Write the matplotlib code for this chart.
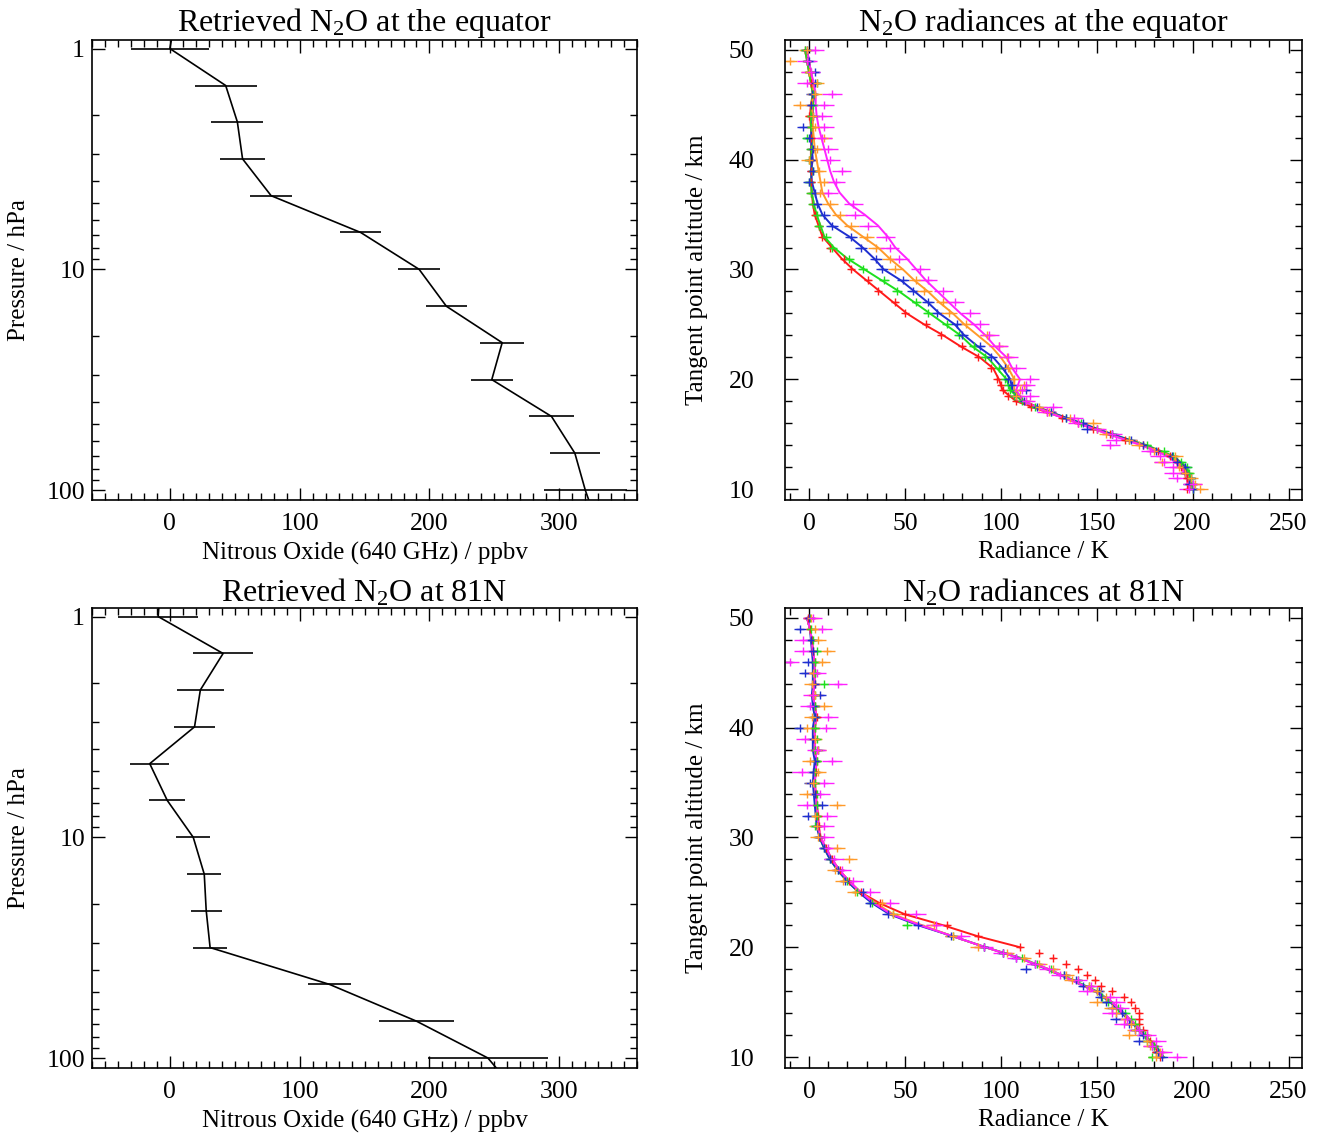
import matplotlib.pyplot as plt
import numpy as np
from matplotlib.ticker import MultipleLocator, LogLocator, NullFormatter

plt.rcParams['font.family'] = ['Liberation Serif', 'DejaVu Serif']
plt.rcParams['mathtext.default'] = 'regular'

# ---- retrieved N2O profiles (left column) ----
pres = [0.68, 1.0, 1.47, 2.15, 3.16, 4.64, 6.81, 10.0, 14.7, 21.5, 31.6, 46.4, 68.1, 100.0, 147.0]
n2o_eq = [5, 0, 43, 52, 56, 78, 147, 192, 213, 256, 248, 294, 312, 320, 330]
err_eq = [0, 30, 24, 20, 17, 16, 16, 16, 16, 17, 16, 17, 19, 32, 0]
n2o_81 = [-7, -9, 41, 23.5, 19, -15.5, -2, 18, 26.5, 28, 31, 123, 190, 245, 269]
err_81 = [0, 31, 23, 18, 16, 15, 14, 13, 13, 12, 13, 16.5, 29, 46, 0]

# ---- radiances (right column) ----
z_line = np.arange(10, 51)                      # km, 1 km grid for the lines
z_meas = np.concatenate([np.arange(10, 20, 0.5), np.arange(20, 51)])  # tangent heights

names = ['red', 'green', 'blue', 'orange', 'magenta']
colours = {'red': '#ff1a1a', 'green': '#1ee01e', 'blue': '#1f2fd0',
           'orange': '#ff9a2a', 'magenta': '#ff22ff'}
xerr = {'red': 1.2, 'green': 2.5, 'blue': 3.0, 'orange': 4.0, 'magenta': 5.0}

# equator lines (z = 10..50)
line_eq = {
    'red': [198, 197, 195, 188, 174, 157, 141, 124, 108, 101,
            99, 96, 89, 79, 70, 60, 51, 44, 37, 30, 23, 17, 12, 7, 5, 3, 2, 1.5, 1, 1.5,
            1, 1, 1.5, 1, 0.5, 1, 2, 1, 0, -1, -2],
    'green': [200, 199, 197, 190, 176, 158, 142, 126, 111, 105,
              103, 98, 93, 85, 79, 71, 63, 55, 47, 38, 29, 20, 13, 8, 6, 4, 2.5, 1.5, 1, 1.5,
              1, 1.5, 1.5, 1, 1, 1.5, 2, 1, 0, -1, -2],
    'blue': [199, 198, 196, 189, 175, 158, 142, 126, 112, 106,
             105, 101, 96, 88, 81, 76, 68, 62, 55, 48, 39, 34, 28, 21, 12, 7, 4.5, 3, 1.5, 1,
             2, 1.5, 1, 1.5, 2, 2, 3, 2, 1, 0, -1],
    'orange': [199, 198, 195, 189, 174, 156, 140, 125, 112, 107,
               107, 104, 100, 95, 88, 81, 75, 68, 62, 55, 49, 42, 36, 28, 20, 14, 10, 7, 6, 5,
               4, 3, 2.5, 2, 2, 1.5, 2.5, 2, 1, 0, -1],
    'magenta': [198, 197, 194, 187, 173, 156, 140, 124, 112, 108,
                110, 106, 103, 97, 92, 86, 79, 73, 67, 61, 56, 51, 45, 41, 36, 29, 21, 16, 13, 11,
                9.5, 8, 6.5, 5, 4, 3.5, 3.5, 2.5, 1, 0, -1],
}

# equator measurements (z_meas grid)
meas_eq = {
    'red': [197, 198, 197, 196, 194, 192, 188, 182, 174, 165, 157, 148, 140, 132, 124, 116, 108, 104, 101, 100,
            98, 95, 88, 80, 69, 61, 50, 45, 36, 31, 22, 18, 11, 7, 5, 3, 2, 1, 1, 1,
            1, 1, 1, 1, 0, 1, 2, 1, 0, -1, -2],
    'green': [200, 200, 199, 198, 197, 194, 190, 185, 176, 167, 158, 150, 142, 134, 126, 118, 111, 107, 105, 104,
              102, 99, 92, 86, 78, 72, 62, 56, 46, 39, 28, 21, 12, 9, 5, 4, 2, 1, 0, 2,
              0, 1, -1, 1, 1, 2, 2, 4, 0, -1, -2],
    'blue': [200, 198, 199, 196, 196, 192, 189, 181, 174, 168, 158, 145, 143, 134, 126, 119, 112, 108, 113, 106,
             104, 102, 95, 89, 80, 77, 67, 62, 54, 49, 38, 35, 27, 22, 12, 8, 4, 3, 0, 2,
             1, 2, 0, -3, 2, 1, 1.5, 3, 3, 0, -1],
    'orange': [204, 201, 199, 196, 193, 184, 191, 180, 172, 167, 155, 150, 148, 136, 125, 120, 113, 108, 110, 112,
               107, 104, 103, 99, 93, 82, 73, 70, 60, 56, 45, 42, 35, 30, 22, 16, 11, 6, 8, 5,
               0, 4, 8, 3, 2, -4.5, 3, 4, 0, -10, -1],
    'magenta': [198, 200, 192, 190, 190, 185, 183, 178, 157, 160, 158, 150, 140, 138, 124, 127, 113, 115, 111, 113,
                115, 108, 104, 99, 94, 89, 84, 76, 70, 62, 58, 47, 42, 40, 31, 24, 23, 10, 14, 17,
                11, 10, 7, 8, 7, 8, 12, -1, 1, -1, 3],
}

# 81N lines (z = 10..50); red line stops at 20 km
nan = np.nan
line_81 = {
    'red': [nan] * 10 +
           [110, 88, 70, 50, 37, 27, 21, 16, 12, 9, 6, 5, 4.7, 4, 3.5, 3, 3.5, 4, 3, 3,
            3, 4, 3, 2, 3, 3, 3, 2, 1.5, 0.5, -1],
    'green': [185, 181, 175, 170, 164, 158, 150, 138, 125, 111,
              92, 75, 58, 43, 34, 26, 20, 15, 11, 8, 5.5, 4.5, 4, 3.5, 3, 2.5, 3, 3.5, 2.5, 2.5,
              2.5, 3.5, 2.5, 2, 2.5, 2.5, 2.5, 2, 1.5, 0.5, -1],
    'blue': [184, 180, 174, 169, 163, 157, 149, 137, 124, 110,
             92, 75, 57, 42, 33, 26, 20, 15, 11, 8, 5.5, 4, 3.5, 3, 2.5, 2, 2.5, 3, 2, 2,
             2, 3, 2, 1.5, 2, 2, 2, 1.5, 1, 0.5, -1],
    'orange': [184, 180, 174, 170, 164, 158, 149, 137, 125, 110,
               92, 75, 59, 44, 35, 27, 21, 16, 12, 9, 6, 5, 4.7, 4, 3.5, 3, 3.5, 4, 3, 3,
               3, 4, 3, 2, 3, 3, 3, 2, 1.5, 0.5, -1],
    'magenta': [184, 180, 174, 170, 164, 158, 149, 137, 125, 110,
                92, 75, 58, 43, 34, 27, 21, 16, 12, 9, 6, 5, 4.7, 4, 3.5, 3, 3.5, 4, 3, 3,
                3, 4, 3, 2, 3, 3, 3, 2, 1.5, 0.5, -1],
}

# 81N measurements (z_meas grid)
meas_81 = {
    'red': [183, 181, 180, 178, 176, 174, 172, 172, 172, 170, 168, 164, 158, 152, 149, 145, 140, 134, 127, 120,
            110, 88, 72, 50, 37, 27, 21, 16, 12, 9, 6, 5, 4.5, 4, 3.5, 3, 3.5, 4, 3, 3,
            3, 4, 3, 2, 3, 3, 3, 2, 1.5, 0.5, -0.5],
    'green': [179, 182, 180, 176, 175, 172, 170, 168, 165, 161, 156, 153, 150, 146, 140, 133, 126, 119, 111, 101,
              91, 75, 51, 44, 33, 25, 20, 15, 11, 8, 5, 3, 4, 4, 4, 3, 3, 4, 3, 4,
              3, 3, 3, 3, 8, 3, 3, 4, 2, 1, 0.5],
    'blue': [184, 182, 179, 172, 174, 170, 167, 160, 163, 158, 155, 152, 151, 143, 139, 133, 113, 118, 108, 101,
             91, 74, 57, 41, 32, 28, 19, 15, 11, 8, 5, 4, -0.5, 7, 3, 0.5, 2, 3, 4.7, 2,
             -4.7, 3, 2, 5.7, 3, -2, -0.5, 2, 1, -4.7, 0],
    'orange': [181, 183, 178, 176, 167, 170, 168, 165, 160, 158, 150, 155, 150, 146, 137, 134, 127, 120, 112, 103,
               88, 75, 65, 44, 38, 24, 17.7, 13.5, 21, 14.6, 4.7, 4, 3, 14.6, -1, 2, 4.7, 0.5, 4.7, 3,
               -1, 1.5, 8, 3, 1.5, 2, 7, 9.4, 4.7, 3, 1],
    'magenta': [192, 184, 179, 181, 176, 172, 164, 166, 158, 162, 160, 157, 145, 147, 140, 131, 125, 118, 108, 101,
                91, 79, 66, 56, 42, 32, 23, 17, 13, 10, 8, 8, 9.4, -1, 5.7, 8, -3.6, 12, 4, -2,
                9, 10, 0.5, 2, 15, 4, -10, -3, -3, 7, 2],
}

fig = plt.figure(figsize=(13.33, 11.38), dpi=100)
ax_tl = fig.add_axes([0.069, 0.5606, 0.409, 0.4042])
ax_bl = fig.add_axes([0.069, 0.0615, 0.409, 0.4042])
ax_tr = fig.add_axes([0.5889, 0.5606, 0.3878, 0.4042])
ax_br = fig.add_axes([0.5889, 0.0615, 0.3878, 0.4042])

fs_title = 23
fs_tick = 18.5
fs_lab = 18


def style(ax, ypad):
    ax.tick_params(which='both', direction='in', top=True, right=True,
                   labelsize=fs_tick, width=1)
    ax.tick_params(axis='x', pad=9)
    ax.tick_params(axis='y', pad=ypad)
    ax.tick_params(which='major', length=9)
    ax.tick_params(which='minor', length=5)
    for s in ax.spines.values():
        s.set_linewidth(1.2)


def profile_panel(ax, vals, errs, title):
    ax.plot(vals, pres, color='black', lw=1.2)
    ax.errorbar(vals[1:-1], pres[1:-1], xerr=errs[1:-1], fmt='none',
                ecolor='black', elinewidth=1.2, capsize=0)
    ax.set_yscale('log')
    ax.set_ylim(111, 0.915)
    ax.set_xlim(-60, 360)
    ax.set_yticks([1, 10, 100])
    ax.set_yticklabels(['1', '10', '100'])
    ax.yaxis.set_minor_locator(LogLocator(base=10, subs=np.arange(2, 10)))
    ax.yaxis.set_minor_formatter(NullFormatter())
    ax.xaxis.set_major_locator(MultipleLocator(100))
    ax.xaxis.set_minor_locator(MultipleLocator(10))
    ax.set_xlabel('Nitrous Oxide (640 GHz) / ppbv', fontsize=fs_lab, labelpad=5)
    ax.set_ylabel('Pressure / hPa', fontsize=fs_lab)
    ax.yaxis.set_label_coords(-0.114, 0.5)
    ax.set_title(title, fontsize=fs_title, pad=5)
    style(ax, 5)


def radiance_panel(ax, lines, meas, title):
    for n in names:
        ax.plot(lines[n], z_line, color=colours[n], lw=1.4)
        ax.errorbar(meas[n], z_meas, xerr=xerr[n], fmt='+', ms=6, mew=1,
                    color=colours[n], elinewidth=1, capsize=0)
    ax.set_xlim(-12.5, 257)
    ax.set_ylim(9.0, 50.9)
    ax.xaxis.set_major_locator(MultipleLocator(50))
    ax.xaxis.set_minor_locator(MultipleLocator(10))
    ax.yaxis.set_major_locator(MultipleLocator(10))
    ax.yaxis.set_minor_locator(MultipleLocator(2))
    ax.set_xlabel('Radiance / K', fontsize=fs_lab, labelpad=5)
    ax.set_ylabel('Tangent point altitude / km', fontsize=fs_lab)
    ax.yaxis.set_label_coords(-0.149, 0.5)
    ax.set_title(title, fontsize=fs_title, pad=5)
    style(ax, 22)


profile_panel(ax_tl, n2o_eq, err_eq, 'Retrieved N$_2$O at the equator')
profile_panel(ax_bl, n2o_81, err_81, 'Retrieved N$_2$O at 81N')
radiance_panel(ax_tr, line_eq, meas_eq, 'N$_2$O radiances at the equator')
radiance_panel(ax_br, line_81, meas_81, 'N$_2$O radiances at 81N')

fig.savefig('out.png', dpi=100)
